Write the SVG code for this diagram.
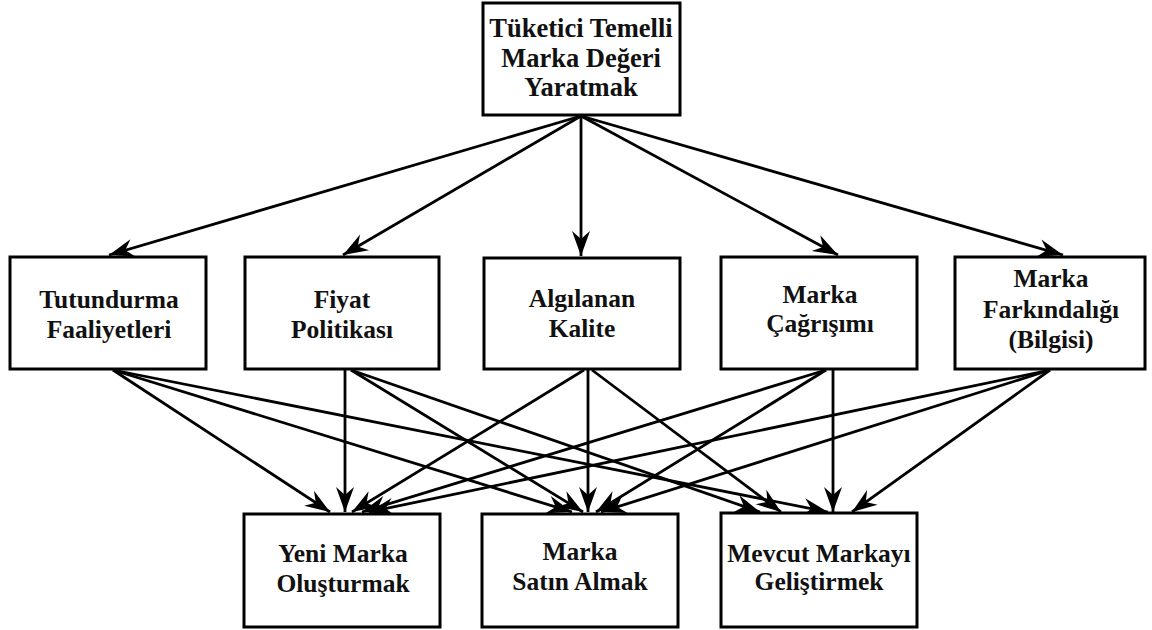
<svg xmlns="http://www.w3.org/2000/svg" width="1152" height="630" viewBox="0 0 1152 630">
  <style>
    .box { fill: #ffffff; stroke: #000000; stroke-width: 3; }
    .lbl { font-family: "Liberation Serif", "Times New Roman", serif; font-weight: bold; font-size: 25.5px; fill: #111111; text-anchor: middle; }
    .top { font-size: 26.5px; }
    .edge { stroke: #000000; stroke-width: 2.8; fill: none; marker-end: url(#head); }
  </style>
  <defs>
    <marker id="head" markerUnits="userSpaceOnUse" viewBox="-27 -10 29 20" refX="0" refY="0" markerWidth="29" markerHeight="20" orient="auto">
      <path d="M0,0 L-25,-9 L-17,0 L-25,9 Z" fill="#000000"/>
    </marker>
  </defs>
  <rect width="1152" height="630" fill="#ffffff"/>

  <!-- connectors -->
  <g id="connectors">
    <!-- goal to criteria -->
    <line class="edge" x1="581" y1="116" x2="109" y2="255"/>
    <line class="edge" x1="581" y1="116" x2="343" y2="255"/>
    <line class="edge" x1="581" y1="116" x2="581" y2="256"/>
    <line class="edge" x1="581" y1="116" x2="838" y2="255"/>
    <line class="edge" x1="581" y1="116" x2="1063" y2="255"/>
    <!-- Tutundurma Faaliyetleri -->
    <line class="edge" x1="113" y1="370" x2="330" y2="512"/>
    <line class="edge" x1="113" y1="370" x2="572" y2="512"/>
    <line class="edge" x1="113" y1="370" x2="828" y2="512"/>
    <!-- Fiyat Politikası -->
    <line class="edge" x1="345" y1="370" x2="345" y2="512"/>
    <line class="edge" x1="351" y1="370" x2="583" y2="512"/>
    <line class="edge" x1="351" y1="370" x2="760" y2="512"/>
    <!-- Algılanan Kalite -->
    <line class="edge" x1="584" y1="370" x2="352" y2="512"/>
    <line class="edge" x1="588" y1="370" x2="588" y2="512"/>
    <line class="edge" x1="592" y1="370" x2="781" y2="512"/>
    <!-- Marka Çağrışımı -->
    <line class="edge" x1="826" y1="370" x2="362" y2="512"/>
    <line class="edge" x1="826" y1="370" x2="596" y2="512"/>
    <line class="edge" x1="833" y1="370" x2="833" y2="512"/>
    <!-- Marka Farkındalığı -->
    <line class="edge" x1="1050" y1="370" x2="369" y2="512"/>
    <line class="edge" x1="1050" y1="370" x2="601" y2="512"/>
    <line class="edge" x1="1050" y1="370" x2="852" y2="512"/>
  </g>

  <g id="goal">
    <rect class="box" x="483" y="3" width="197" height="112"/>
    <text class="lbl top" x="581" y="37">Tüketici Temelli</text>
    <text class="lbl top" x="581" y="67">Marka Değeri</text>
    <text class="lbl top" x="581" y="96">Yaratmak</text>
  </g>

  <g id="tutundurma">
    <rect class="box" x="10" y="257" width="196" height="112"/>
    <text class="lbl" x="109" y="308">Tutundurma</text>
    <text class="lbl" x="109" y="338">Faaliyetleri</text>
  </g>
  <g id="fiyat">
    <rect class="box" x="245" y="257" width="194" height="112"/>
    <text class="lbl" x="342" y="308">Fiyat</text>
    <text class="lbl" x="342" y="338">Politikası</text>
  </g>
  <g id="kalite">
    <rect class="box" x="484" y="258" width="196" height="111"/>
    <text class="lbl" x="582" y="307">Algılanan</text>
    <text class="lbl" x="582" y="337">Kalite</text>
  </g>
  <g id="cagrisim">
    <rect class="box" x="721" y="257" width="196" height="112"/>
    <text class="lbl" x="820" y="303">Marka</text>
    <text class="lbl" x="820" y="332">Çağrışımı</text>
  </g>
  <g id="farkindalik">
    <rect class="box" x="955" y="257" width="190" height="112"/>
    <text class="lbl" x="1051" y="287">Marka</text>
    <text class="lbl" x="1051" y="318">Farkındalığı</text>
    <text class="lbl" x="1051" y="348">(Bilgisi)</text>
  </g>

  <g id="yeni-marka">
    <rect class="box" x="244" y="514" width="196" height="113"/>
    <text class="lbl" x="343" y="562">Yeni Marka</text>
    <text class="lbl" x="343" y="592">Oluşturmak</text>
  </g>
  <g id="satin-alma">
    <rect class="box" x="482" y="514" width="196" height="113"/>
    <text class="lbl" x="580" y="560">Marka</text>
    <text class="lbl" x="580" y="590">Satın Almak</text>
  </g>
  <g id="mevcut-marka">
    <rect class="box" x="721" y="513" width="196" height="114"/>
    <text class="lbl" x="819" y="562">Mevcut Markayı</text>
    <text class="lbl" x="819" y="590">Geliştirmek</text>
  </g>
</svg>
